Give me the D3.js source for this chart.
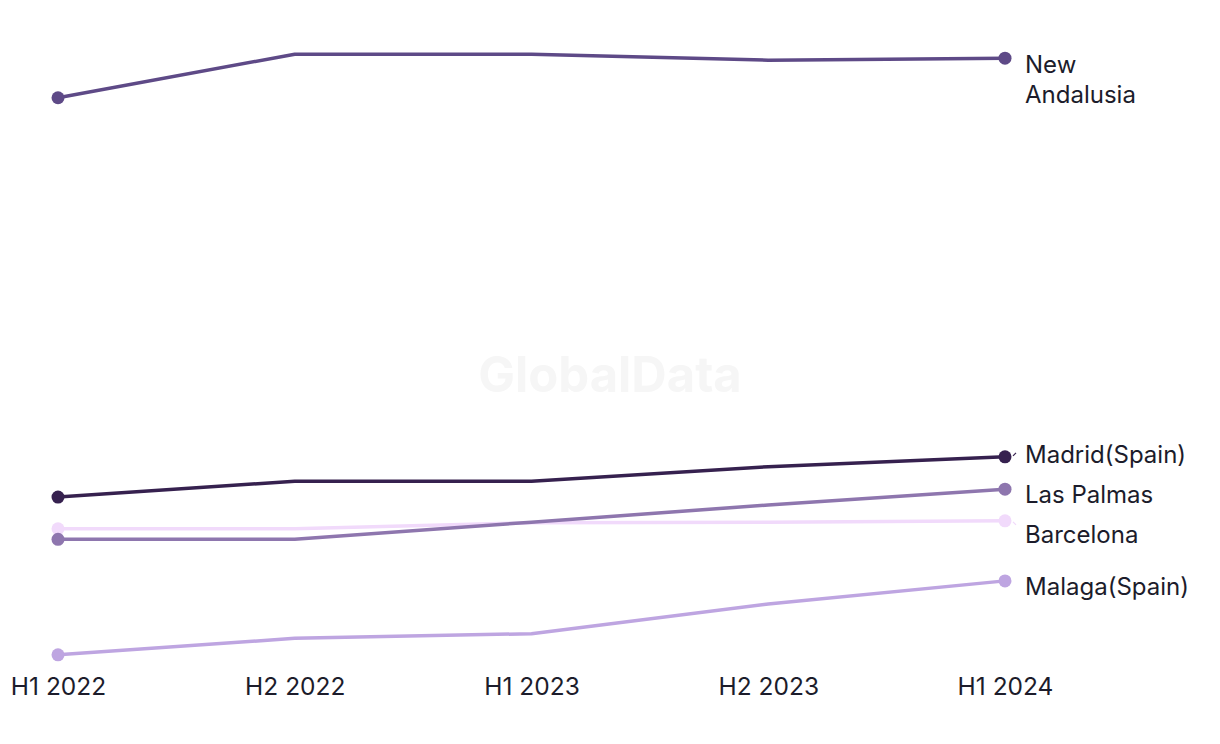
<!DOCTYPE html>
<html><head><meta charset="utf-8">
<script src="https://cdn.jsdelivr.net/npm/d3@7"></script>
<style>
html,body{margin:0;padding:0;background:#fff;}
svg{display:block;}
</style></head>
<body><svg id="chart" width="1220" height="744"></svg>
<script>
const periods = ["H1 2022","H2 2022","H1 2023","H2 2023","H1 2024"];
const seriesNames = ["New Andalusia","Madrid(Spain)","Las Palmas","Barcelona","Malaga(Spain)"];
const newAndalusia = [91.4, 98.0, 98.0, 97.1, 97.4];
const madrid = [30.9, 33.3, 33.3, 35.5, 37.0];
const lasPalmas = [24.5, 24.5, 27.1, 29.7, 32.1];
const barcelona = [26.1, 26.1, 27.0, 27.1, 27.3];
const malaga = [7.0, 9.5, 10.2, 14.7, 18.2];
const colors = ["#5e4a87","#36214f","#8e76ae","#f1dafb","#bea5e1"];

const series = [
  {name: seriesNames[0], lines: ["New","Andalusia"], values: newAndalusia, color: colors[0]},
  {name: seriesNames[1], lines: ["Madrid(Spain)"], values: madrid, color: colors[1]},
  {name: seriesNames[2], lines: ["Las Palmas"], values: lasPalmas, color: colors[2]},
  {name: seriesNames[3], lines: ["Barcelona"], values: barcelona, color: colors[3]},
  {name: seriesNames[4], lines: ["Malaga(Spain)"], values: malaga, color: colors[4]}
];

const svg = d3.select("#chart");
const x = d3.scalePoint().domain(periods).range([58, 1005]);
const y = d3.scaleLinear().domain([0, 100]).range([701, 41]);

// watermark
svg.append("text").attr("x", 610).attr("y", 374)
  .attr("text-anchor","middle").attr("dominant-baseline","central")
  .style("font-family","Inter, 'Liberation Sans', sans-serif").style("font-weight","700")
  .style("font-size","49px").style("fill","#f6f6f6").text("GlobalData");

// x axis
const xAxis = d3.axisBottom(x).tickSize(0).tickPadding(0);
const gx = svg.append("g").attr("transform","translate(0,686)").call(xAxis);
gx.select(".domain").remove();
gx.selectAll("text").attr("dy","0.35em")
  .style("font-family","Inter, 'Liberation Sans', sans-serif").style("font-size","24.5px").style("fill","#1c1c2b");

const line = d3.line().x((d,i)=>x(periods[i])).y(d=>y(d));

// draw lines (Barcelona behind others)
const order = [3,4,2,1,0];
order.forEach(k=>{
  const s = series[k];
  svg.append("path").datum(s.values).attr("d", line)
    .attr("fill","none").attr("stroke", s.color).attr("stroke-width",3.5)
    .attr("stroke-linejoin","round");
  [0, periods.length-1].forEach(i=>{
    svg.append("circle").attr("cx", x(periods[i])).attr("cy", y(s.values[i]))
      .attr("r", 6.5).attr("fill", s.color);
  });
});

// label placement with cluster relaxation
const gap = 40;
const labels = series.map(s=>({s, dataY: y(s.values[s.values.length-1]), want: y(s.values[s.values.length-1]) + 5}))
  .sort((a,b)=>a.want-b.want);
let clusters = [];
labels.forEach(l=>{
  clusters.push({items:[l], top: l.want});
  while (clusters.length > 1) {
    const c = clusters[clusters.length-1], p = clusters[clusters.length-2];
    const pHeight = p.items.reduce((a,it)=>a + gap*it.s.lines.length, 0);
    if (p.top + pHeight - gap*(p.items[p.items.length-1].s.lines.length) + gap > c.top) {
      const items = p.items.concat(c.items);
      const wants = items.map(it=>it.want);
      let off = 0; const offs = items.map(it=>{const o = off; off += gap*it.s.lines.length; return o;});
      const top = d3.mean(wants.map((w,i)=>w - offs[i]));
      clusters.pop(); clusters.pop();
      clusters.push({items, top});
    } else break;
  }
});
clusters.forEach(c=>{
  let off = 0;
  c.items.forEach(it=>{ it.pos = c.top + off; off += gap*it.s.lines.length; });
});

const lx = x(periods[periods.length-1]);
labels.forEach(l=>{
  if (Math.abs(l.pos - 5 - l.dataY) > 4) {
    const dir = Math.sign(l.pos - l.dataY);
    svg.append("line").attr("x1", lx + 8).attr("y1", l.dataY + dir*1)
      .attr("x2", lx + 11).attr("y2", l.dataY + dir*4)
      .attr("stroke", l.s.color).attr("stroke-width", 1.2);
  }
  const t = svg.append("text").attr("x", lx + 20).attr("y", l.pos + 1)
    .style("font-family","Inter, 'Liberation Sans', sans-serif").style("font-size","24px").style("fill","#1c1c2b");
  l.s.lines.forEach((ln,i)=>{
    t.append("tspan").attr("x", lx + 20).attr("dy", i===0 ? "0.35em" : "1.25em").text(ln);
  });
});
</script></body></html>
